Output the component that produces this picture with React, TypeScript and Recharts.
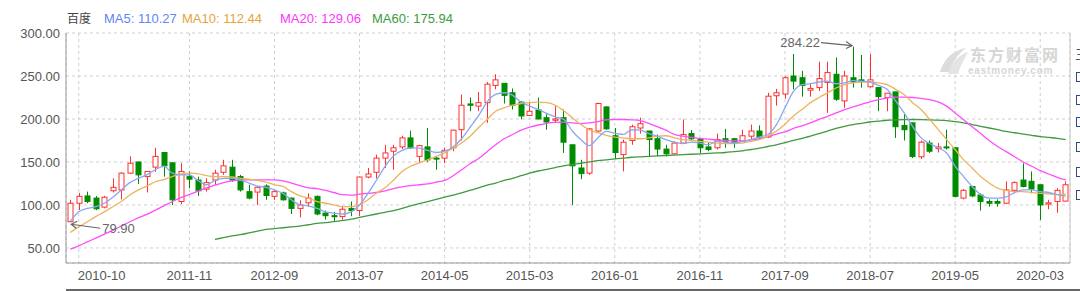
import {
  ComposedChart,
  Bar,
  Line,
  XAxis,
  YAxis,
  CartesianGrid,
  ReferenceDot,
} from "recharts";

const FONT = "Arial, 'Liberation Sans', 'Noto Sans CJK SC', sans-serif";
const RED = "#ff3030";
const GREEN = "#008c00";

// monthly candles, 2010-09 .. 2020-06
const months: string[] = [];
for (let k = 0; k < 118; k++) {
  const m = 8 + k;
  months.push(`${2010 + Math.floor(m / 12)}-${String((m % 12) + 1).padStart(2, "0")}`);
}

const open = [
  80.5, 102, 110.5, 108, 97.5, 116.5, 117.5, 137, 150, 133,
  144, 161, 149, 104, 133, 129, 118.5, 129, 138, 144,
  133, 115.5, 115, 122, 110, 114, 108, 96, 102.5, 110,
  90.5, 87.5, 86.5, 96, 93.5, 132.5, 138, 154.5, 162.5, 167.5,
  178, 156.5, 167.5, 154.5, 154.5, 166.5, 187.5, 217.5, 215, 219,
  239, 241.5, 230.5, 219.5, 204, 210.5, 201.5, 198.5, 201.5, 170,
  143, 137, 186, 214, 180.5, 158.5, 175, 189.5, 186, 177,
  165, 159.5, 172, 183, 176, 167.5, 166.5, 177, 177, 174,
  180, 186, 179, 227, 229, 250, 248, 233.5, 236.5, 242.5,
  252, 221, 248, 245.5, 237.5, 236.5, 225, 231.5, 192.5, 195.5,
  156, 172, 165.5, 167.5, 166.5, 108, 121.5, 111.5, 104, 104,
  102, 117, 129, 127.5, 123.5, 101, 104, 104.5,
];
const high = [
  106, 114, 115.5, 110.5, 110.5, 131, 138, 156.5, 150, 139.5,
  166.5, 161.5, 150, 148.5, 139, 133, 131, 141, 152.5, 152.5,
  135, 123.5, 122, 124, 117.5, 115.5, 108.5, 105.5, 113.5, 111,
  93.5, 92, 98, 104, 133, 143, 158.5, 170, 170, 180.5,
  186.5, 170, 189.5, 156.5, 166.5, 187.5, 228.5, 225, 231.5, 243,
  252, 241.5, 235.5, 221, 219, 225, 205.5, 215, 211, 170,
  152.5, 189.5, 219, 215, 189.5, 176, 193.5, 201.5, 186, 182,
  170, 174, 199.5, 187, 178, 173, 183, 188.5, 178, 187.5,
  193.5, 192.5, 230.5, 235, 250, 275.5, 256, 240.5, 266.5, 266.5,
  271.5, 256, 284.22, 274.5, 275.5, 236.5, 230, 231.5, 205.5, 195.5,
  175, 175, 172, 187.5, 166.5, 118.5, 121.5, 113.5, 106.5, 106.5,
  127.5, 127.5, 148.5, 139, 123.5, 106, 119.5, 127.5,
];
const low = [
  79.9, 94, 102, 94, 96, 114.5, 106.5, 136, 124.5, 114.5,
  138.5, 133, 100, 101, 119.5, 110.5, 115.5, 123.5, 135, 127,
  115.5, 106.5, 100, 106, 106, 105, 89.5, 85.5, 98, 88,
  83, 80.5, 83, 87, 87, 131, 131, 143, 141, 165,
  165, 148.5, 150, 141, 148.5, 162.5, 175, 209, 209, 195.5,
  234.5, 218, 211, 199.5, 203.5, 199.5, 187.5, 195.5, 160.5, 100,
  130, 135, 184.5, 187.5, 153.5, 139, 170, 183, 156.5, 156.5,
  156.5, 158.5, 171.5, 174.5, 160.5, 162.5, 164.5, 166.5, 166.5, 173,
  176, 178, 178, 215.5, 223.5, 234.5, 226, 226, 232.5, 207,
  221, 213, 236.5, 236.5, 236.5, 209, 209, 178, 175, 154.5,
  153.5, 160.5, 161, 164.5, 109, 106.5, 109, 93.5, 98, 98,
  101, 113.5, 120.5, 113.5, 82.5, 95, 91, 104,
];
const close = [
  102, 110, 104, 95.5, 109, 120.5, 137, 148.5, 135, 139,
  156.5, 145.5, 106, 139, 130, 116.5, 126, 137, 145.5, 129,
  117.5, 108, 120.5, 111, 115.5, 106, 96, 100, 108, 89.5,
  87.5, 86.5, 95, 93.5, 132.5, 136, 154.5, 160.5, 166.5, 178,
  166.5, 169, 152.5, 153.5, 163.5, 187, 216, 216, 219, 240.5,
  245.5, 227.5, 216, 203.5, 209, 200, 196.5, 200, 173, 145.5,
  136.5, 188.5, 218, 188.5, 161, 173, 191, 194.5, 176, 165,
  159.5, 172, 182, 177, 166.5, 164.5, 176, 174, 173, 180.5,
  186, 179, 226.5, 230.5, 248, 244, 239, 235.5, 247, 254,
  223, 250, 243, 243.5, 245.5, 226, 230, 191, 187.5, 156.5,
  173, 162.5, 167.5, 166.5, 110, 117, 110.5, 104, 102, 102,
  117.5, 126, 121.5, 118.5, 100, 102.5, 117, 123.5,
];
const ma5 = [
  81, 92, 96, 98, 102, 109, 117.5, 126, 131, 135,
  141, 145, 137, 135, 135, 128.5, 123.5, 128.5, 131, 131,
  129, 125.5, 122, 120.5, 117.5, 113.5, 106, 100, 99, 96,
  92, 90.5, 89.5, 92, 100, 113.5, 129, 145, 157, 163.5,
  166.5, 166, 163.5, 161, 162.5, 167.5, 177, 190.5, 204, 220,
  228.5, 230.5, 227.5, 219.5, 215, 211, 206.5, 202.5, 199.5, 186,
  176, 169, 178, 185.5, 183.5, 182, 187.5, 187, 183, 180,
  176, 173, 171.5, 173, 172, 170, 174, 173, 172, 174,
  176, 179, 182, 193.5, 213, 232, 240, 241, 243, 244,
  241, 242, 244.5, 244, 243, 239, 234.5, 221, 207, 191.5,
  178, 171.5, 166.5, 160.5, 145, 133, 121.5, 112, 108, 108,
  109.5, 114.5, 117.5, 117.5, 115.5, 114.5, 112, 110.27,
];
const ma10 = [
  68, 74.5, 80.5, 86.5, 92, 98, 104, 111.5, 117.5, 122,
  127, 129.5, 133, 136, 137, 136.5, 134, 133, 133, 132.5,
  131, 130, 128.5, 126.5, 123.5, 121.5, 115.5, 110.5, 108, 104,
  102, 100, 98, 98, 100, 106, 114, 120, 129, 139,
  145, 149, 152.5, 156.5, 160.5, 166, 172, 180, 190, 199.5,
  209, 213, 216, 218, 219, 219.5, 219, 216, 209.5, 201.5,
  193.5, 187.5, 184, 181, 179, 178, 177, 177, 178, 180,
  180.5, 178, 176, 175, 174, 173, 172, 171.5, 171.5, 172,
  174, 176, 180, 186, 194, 203.5, 211, 219, 225, 230.5,
  236, 240, 242, 243, 243, 242, 240, 234.5, 228.5, 219,
  211, 199.5, 188, 176, 164.5, 152.5, 143, 133, 125.5, 119.5,
  117, 115.5, 115.5, 114.5, 113.5, 113, 112, 112.44,
];
const ma20 = [
  48.5, 52.5, 57, 61.5, 66, 70.5, 75.5, 80.5, 85, 89,
  94, 99, 104, 108.5, 112, 116, 120, 123, 126, 128,
  129, 129.2, 129.2, 129.2, 129.2, 128, 125.5, 122.5, 120, 119,
  117, 114.5, 112, 111.5, 112.5, 113.5, 114.5, 116.5, 119, 121,
  122.5, 123.5, 124.5, 126.5, 128.5, 134, 141, 148, 154, 162,
  170, 177, 182, 187, 190.5, 193, 195, 196, 196.3, 195.5,
  194.7, 195.5, 197, 199, 199.4, 199.4, 199, 198, 195, 191,
  187, 182, 180, 178.5, 177.5, 176.5, 175.5, 175, 174.5, 174.5,
  175.5, 177, 179.5, 182.5, 185, 189, 192, 195.5, 199.5, 203,
  207, 211, 214, 217, 220, 222.5, 224.5, 225.5, 225.5, 225,
  224, 222.5, 220, 215, 207, 199, 191, 183, 175, 168,
  162, 156, 150, 145, 140, 136, 132, 129.06,
];
const ma60 = [
  null, null, null, null, null, null, null, null, null, null,
  null, null, null, null, null, null, null, 60, 62, 64,
  65.5, 67.5, 69.5, 71.5, 72.5, 73.5, 74.5, 75.5, 77, 78.5,
  79.5, 80.5, 82, 83.5, 85.5, 87.5, 89.5, 91.5, 93.5, 96,
  99, 101.5, 104, 106.5, 109, 111.5, 114, 117, 120, 123,
  125.5, 128.5, 131, 134, 137, 139.5, 141.5, 143.5, 145.5, 147,
  148.5, 150, 151.5, 152.5, 153.5, 154.5, 155.5, 156, 156.5, 157,
  157.5, 158, 158.5, 159, 159.5, 160, 160.5, 161, 162, 163,
  164.5, 166, 168, 170, 172.5, 175, 177.5, 180, 183, 186,
  189, 191.5, 193.5, 195, 196.5, 197.5, 198.5, 199, 199.3, 199.4,
  199.3, 199, 198.6, 198, 197, 195.5, 193.5, 191.5, 189.5, 187.5,
  185.5, 184, 182.5, 181, 179.5, 178.5, 177.5, 175.94,
];

const xTicks = [
  "2010-10", "2011-11", "2012-09", "2013-07", "2014-05", "2015-03",
  "2016-01", "2016-11", "2017-09", "2018-07", "2019-05", "2020-03",
];
const yTicks = [50, 100, 150, 200, 250, 300];

const legend = [
  { label: "MA5: 110.27", color: "#5f86f5", left: 104 },
  { label: "MA10: 112.44", color: "#e5a43a", left: 182 },
  { label: "MA20: 129.06", color: "#ff33ff", left: 280 },
  { label: "MA60: 175.94", color: "#3c9c3c", left: 372 },
];

const data = months.map((date, i) => ({
  date,
  open: open[i],
  high: high[i],
  low: low[i],
  close: close[i],
  range: [low[i], high[i]],
  ma5: ma5[i],
  ma10: ma10[i],
  ma20: ma20[i],
  ma60: ma60[i],
}));

const Candle = (props: any) => {
  const { x, width, payload } = props;
  let { y, height } = props;
  if (height < 0) {
    y += height;
    height = -height;
  }
  const { open: o, close: c, high: h, low: l } = payload;
  const up = c >= o;
  const color = up ? RED : GREEN;
  const k = h - l > 0 ? height / (h - l) : 0;
  const yO = y + (h - o) * k;
  const yC = y + (h - c) * k;
  const top = Math.min(yO, yC);
  const bh = Math.max(Math.abs(yO - yC), 1);
  const cx = Math.round(x + width / 2) + 0.5;
  return (
    <g>
      <line x1={cx} x2={cx} y1={y} y2={y + height} stroke={color} strokeWidth={1} />
      <rect
        x={cx - 2.5}
        y={top}
        width={5}
        height={bh}
        fill={up ? "#fff" : color}
        stroke={color}
        strokeWidth={1}
      />
    </g>
  );
};

const XTick = (props: any) => {
  const { x, y, payload, index } = props;
  const first = index === 0 || payload.value === xTicks[0];
  return (
    <text
      x={first ? x - 1 : x}
      y={y}
      dy="0.71em"
      textAnchor={first ? "start" : "middle"}
      fill="#555"
      fontSize={13}
      fontFamily={FONT}
    >
      {payload.value}
    </text>
  );
};

const LowMark = (props: any) => {
  const { cx, cy } = props;
  const tx = cx + 1, ty = cy + 2;
  return (
    <g>
      <line x1={cx + 30} y1={cy + 6} x2={tx} y2={ty} stroke="#666" strokeWidth={1.2} />
      <polyline points={`${tx + 6},${ty - 3} ${tx},${ty} ${tx + 5},${ty + 4}`} fill="none" stroke="#666" strokeWidth={1.2} />
      <text x={cx + 32} y={cy + 6} dy="0.35em" fill="#666" fontSize={13} fontFamily={FONT}>
        79.90
      </text>
    </g>
  );
};

const HighMark = (props: any) => {
  const { cx, cy } = props;
  const tx = cx - 1, ty = cy - 1;
  return (
    <g>
      <line x1={cx - 32} y1={cy - 4} x2={tx} y2={ty} stroke="#666" strokeWidth={1.2} />
      <polyline points={`${tx - 6},${ty - 4} ${tx},${ty} ${tx - 6},${ty + 3}`} fill="none" stroke="#666" strokeWidth={1.2} />
      <text x={cx - 33} y={cy - 4} dy="0.35em" textAnchor="end" fill="#666" fontSize={13} fontFamily={FONT}>
        284.22
      </text>
    </g>
  );
};

const boxTops = [72, 95, 117, 142, 167, 190];

export default function App() {
  return (
    <div style={{ position: "absolute", left: 0, top: 0, width: 1080, height: 291, background: "#fff", overflow: "hidden", fontFamily: FONT }}>
      <div style={{ position: "absolute", top: 11, left: 67, fontSize: 12, color: "#444", lineHeight: "16px" }}>百度</div>
      {legend.map((d) => (
        <div key={d.label} style={{ position: "absolute", top: 11, left: d.left, fontSize: 13, color: d.color, lineHeight: "16px", whiteSpace: "nowrap" }}>
          {d.label}
        </div>
      ))}

      <ComposedChart
        width={1080}
        height={291}
        data={data}
        margin={{ top: 33, right: 9, bottom: 0, left: 0 }}
      >
        <CartesianGrid stroke="#cfcfcf" strokeDasharray="3 3" />
        <XAxis
          dataKey="date"
          ticks={xTicks}
          interval={0}
          height={28}
          tick={<XTick />}
          tickLine={false}
          axisLine={{ stroke: "#999" }}
        />
        <YAxis
          domain={[32.5, 300]}
          ticks={yTicks}
          width={66}
          tickLine={false}
          tickSize={4}
          axisLine={{ stroke: "#999" }}
          tick={{ fill: "#555", fontSize: 13, fontFamily: FONT }}
          tickFormatter={(v: number) => v.toFixed(2)}
        />
        <YAxis yAxisId="r" orientation="right" width={1} tick={false} tickLine={false} axisLine={{ stroke: "#c8c8c8" }} />
        <Bar dataKey="range" barSize={6} shape={<Candle />} isAnimationActive={false} />
        <Line type="monotone" dataKey="ma60" stroke="#3f9a3f" strokeWidth={1.3} dot={false} isAnimationActive={false} />
        <Line type="monotone" dataKey="ma20" stroke="#ff4cff" strokeWidth={1.3} dot={false} isAnimationActive={false} />
        <Line type="monotone" dataKey="ma10" stroke="#ecb45c" strokeWidth={1.3} dot={false} isAnimationActive={false} />
        <Line type="monotone" dataKey="ma5" stroke="#88a8f2" strokeWidth={1.3} dot={false} isAnimationActive={false} />
        <ReferenceDot x={months[0]} y={79.9} r={0} shape={<LowMark />} />
        <ReferenceDot x={months[92]} y={284.22} r={0} shape={<HighMark />} />
      </ComposedChart>

      {/* watermark */}
      <svg style={{ position: "absolute", left: 936, top: 44, pointerEvents: "none" }} width={34} height={34}>
        <path d="M4 28 C 8 14, 18 6, 30 4 C 22 10, 16 18, 14 28 Z" fill="#dcdcdc" />
        <path d="M12 30 C 16 18, 24 10, 32 8 C 28 16, 24 22, 22 30 Z" fill="#e4e4e4" />
      </svg>
      <div style={{ position: "absolute", left: 970, top: 45, fontSize: 16, fontWeight: "bold", color: "#d6d6d6", letterSpacing: 2, lineHeight: "18px", whiteSpace: "nowrap", fontFamily: "'Noto Sans CJK SC', sans-serif" }}>
        东方财富网
      </div>
      <div style={{ position: "absolute", left: 968, top: 65, fontSize: 10, fontWeight: "bold", color: "#d6d6d6", letterSpacing: 0.8, lineHeight: "11px", whiteSpace: "nowrap" }}>
        eastmoney.com
      </div>

      {/* side panel peeking in on the right */}
      <div style={{ position: "absolute", left: 1075, top: 44, fontSize: 13, color: "#555" }}>三</div>
      {boxTops.map((t) => (
        <div key={t} style={{ position: "absolute", left: 1076, top: t, width: 10, height: 10, border: "1px solid #2b4a86", boxSizing: "border-box" }} />
      ))}
      <div style={{ position: "absolute", left: 66, top: 289, width: 1014, height: 2, background: "#666" }} />
    </div>
  );
}
